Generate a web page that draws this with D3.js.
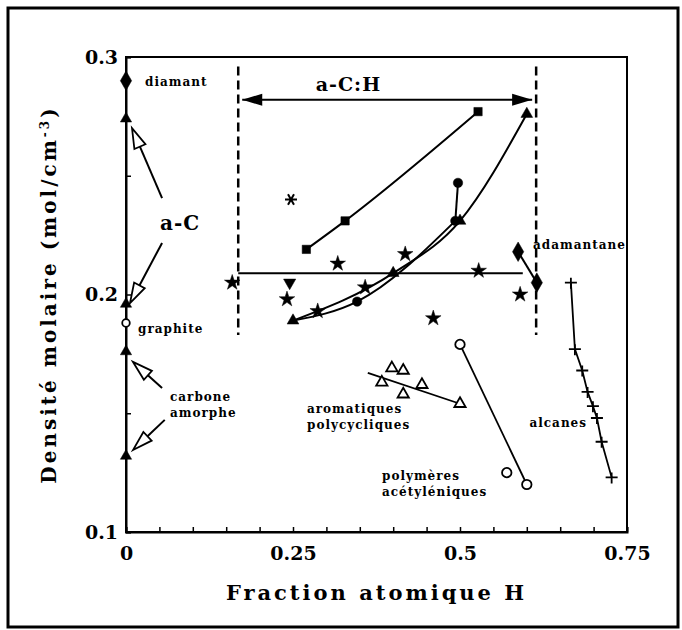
<!DOCTYPE html>
<html>
<head>
<meta charset="utf-8">
<script src="https://cdn.jsdelivr.net/npm/d3@7"></script>
<style>
  body { margin: 0; background: #fff; }
  text { font-family: "DejaVu Serif", "Liberation Serif", serif; font-weight: bold; fill: #000; }
</style>
</head>
<body>
<div id="chart"></div>
<script>
// pure carbon references on the H = 0 axis
var diamant = [[0, 0.29]];
var graphite = [[0, 0.188]];
var carbonTriangles = [[0, 0.274], [0, 0.196], [0, 0.176], [0, 0.132]];

// a-C:H series
var squares = [[0.27, 0.219], [0.328, 0.231], [0.527, 0.277]];
var triangles = [[0.25, 0.189], [0.4, 0.209], [0.5, 0.231], [0.6, 0.276]];
var circles = [[0.346, 0.197], [0.493, 0.231], [0.497, 0.247]];
var stars = [[0.159, 0.205], [0.241, 0.198], [0.287, 0.193], [0.317, 0.213], [0.358, 0.203],
             [0.418, 0.217], [0.46, 0.19], [0.528, 0.21], [0.59, 0.2]];
var asterisk = [[0.247, 0.24]];
var invTriangle = [[0.245, 0.205]];
var hLine = [[0.168, 0.209], [0.594, 0.209]];
var adamantane = [[0.587, 0.218], [0.615, 0.205]];

// hydrocarbons
var aromatiques = [[0.398, 0.169], [0.415, 0.168], [0.383, 0.163], [0.415, 0.158], [0.443, 0.162], [0.5, 0.154]];
var aromFit = [[0.362, 0.167], [0.5, 0.154]];
var polymeres = [[0.5, 0.179], [0.57, 0.125], [0.6, 0.12]];
var alcanes = [[0.666, 0.205], [0.672, 0.177], [0.683, 0.168], [0.691, 0.159], [0.699, 0.153],
               [0.705, 0.148], [0.712, 0.138], [0.727, 0.123]];

// a-C:H domain limits
var domainX = [0.168, 0.614];
var domainY = [0.183, 0.296];
var arrowY = 0.282;

var xTicks = [0, 0.25, 0.5, 0.75];
var yTicks = [0.1, 0.2, 0.3];

var width = 682, height = 630;
var svg = d3.select("#chart").append("svg")
    .attr("width", width)
    .attr("height", height);

// outer frame
svg.append("rect")
    .attr("x", 8).attr("y", 8)
    .attr("width", 670).attr("height", 619)
    .attr("fill", "none").attr("stroke", "#000").attr("stroke-width", 3);

var x = d3.scaleLinear().domain([0, 0.75]).range([126, 627]);
var y = d3.scaleLinear().domain([0.1, 0.3]).range([532, 57]);

// plot box
svg.append("rect")
    .attr("x", x(0)).attr("y", y(0.3))
    .attr("width", x(0.75) - x(0)).attr("height", y(0.1) - y(0.3))
    .attr("fill", "none").attr("stroke", "#000").attr("stroke-width", 2);

function fmtFrom(list) {
    return function(d) {
        return list.some(function(t){ return Math.abs(t - d) < 1e-9; }) ? String(+d.toFixed(2)) : "";
    };
}

var xAxis = svg.append("g")
    .attr("transform", "translate(0," + y(0.1) + ")")
    .call(d3.axisBottom(x).tickValues(d3.range(0, 0.751, 0.05)).tickSize(-5).tickPadding(15).tickFormat(fmtFrom(xTicks)));
var yAxis = svg.append("g")
    .attr("transform", "translate(" + x(0) + ",0)")
    .call(d3.axisLeft(y).tickValues(d3.range(0.1, 0.301, 0.05)).tickSize(-5).tickPadding(8).tickFormat(fmtFrom(yTicks)));
[xAxis, yAxis].forEach(function(a) {
    a.select(".domain").attr("stroke-width", 2);
    a.selectAll(".tick line").attr("stroke-width", 1.5);
    a.selectAll("text").style("font-size", "19px").style("font-family", "'DejaVu Serif', serif").style("font-weight", "bold");
});

// axis titles
svg.append("text")
    .attr("x", (x(0) + x(0.75)) / 2).attr("y", 600)
    .attr("text-anchor", "middle")
    .style("font-size", "21px").style("letter-spacing", "3px")
    .text("Fraction atomique H");

var yt = svg.append("text")
    .attr("transform", "translate(56," + ((y(0.1) + y(0.3)) / 2) + ") rotate(-90)")
    .attr("text-anchor", "middle")
    .style("font-size", "20px").style("letter-spacing", "3px");
yt.append("tspan").text("Densité molaire (mol/cm");
yt.append("tspan").attr("dy", -7).style("font-size", "12px").text("-3");
yt.append("tspan").attr("dy", 7).text(")");

var line = d3.line().x(function(d){ return x(d[0]); }).y(function(d){ return y(d[1]); });
var curve = d3.line().curve(d3.curveMonotoneX).x(function(d){ return x(d[0]); }).y(function(d){ return y(d[1]); });

function drawPath(data, gen, sw) {
    svg.append("path").datum(data).attr("d", gen)
        .attr("fill", "none").attr("stroke", "#000").attr("stroke-width", sw || 2);
}

// dashed domain lines
domainX.forEach(function(v) {
    svg.append("line")
        .attr("x1", x(v)).attr("x2", x(v))
        .attr("y1", y(domainY[1])).attr("y2", y(domainY[0]))
        .attr("stroke", "#000").attr("stroke-width", 2.5).attr("stroke-dasharray", "9,5");
});

// double arrow a-C:H
svg.append("line")
    .attr("x1", x(domainX[0]) + 4).attr("x2", x(domainX[1]) - 4)
    .attr("y1", y(arrowY)).attr("y2", y(arrowY))
    .attr("stroke", "#000").attr("stroke-width", 2);
[[domainX[0], 1], [domainX[1], -1]].forEach(function(p) {
    var tx = x(p[0]) + p[1] * 4, ty = y(arrowY);
    svg.append("path")
        .attr("d", "M" + tx + "," + ty + "L" + (tx + p[1] * 20) + "," + (ty - 6) + "L" + (tx + p[1] * 20) + "," + (ty + 6) + "Z")
        .attr("fill", "#000");
});
svg.append("text").attr("x", x(domainX[0]) + 0.37 * (x(domainX[1]) - x(domainX[0]))).attr("y", y(arrowY) - 9)
    .attr("text-anchor", "middle").style("font-size", "19px").style("letter-spacing", "1px").text("a-C:H");

// open arrows pointing at the carbon references
var openArrows = [
    [[0.054, 0.2406], [0.009, 0.270]],
    [[0.054, 0.2217], [0.006, 0.1964]],
    [[0.054, 0.1606], [0.0105, 0.1716]],
    [[0.058, 0.1472], [0.0105, 0.1345]]
];
openArrows.forEach(function(a) {
    var x0 = x(a[0][0]), y0 = y(a[0][1]), x1 = x(a[1][0]), y1 = y(a[1][1]);
    var ang = Math.atan2(y1 - y0, x1 - x0), L = 20, W = 6;
    var bx = x1 - L * Math.cos(ang), by = y1 - L * Math.sin(ang);
    svg.append("line").attr("x1", x0).attr("y1", y0).attr("x2", bx).attr("y2", by)
        .attr("stroke", "#000").attr("stroke-width", 2);
    svg.append("path")
        .attr("d", "M" + x1 + "," + y1 +
            "L" + (bx + W * Math.sin(ang)) + "," + (by - W * Math.cos(ang)) +
            "L" + (bx - W * Math.sin(ang)) + "," + (by + W * Math.cos(ang)) + "Z")
        .attr("fill", "#fff").attr("stroke", "#000").attr("stroke-width", 1.8);
});

// lines
drawPath(squares, curve);
drawPath(triangles, curve);
drawPath([circles[1], circles[2]], line);
drawPath([triangles[0], circles[0], circles[1]], curve);
drawPath(hLine, line);
drawPath(adamantane, line);
drawPath(aromFit, line, 1.8);
drawPath([polymeres[0], polymeres[2]], line, 1.8);
drawPath(alcanes, line, 1.8);

// markers
function markers(data, type, size, fill, rot) {
    svg.append("g").selectAll("path").data(data).enter().append("path")
        .attr("d", d3.symbol().type(type).size(size))
        .attr("transform", function(d){ return "translate(" + x(d[0]) + "," + y(d[1]) + ")" + (rot ? " rotate(" + rot + ")" : ""); })
        .attr("fill", fill ? "#000" : "#fff")
        .attr("stroke", "#000").attr("stroke-width", fill ? 0.5 : 1.8);
}
markers(diamant, d3.symbolDiamond, 110, true);
markers(adamantane, d3.symbolDiamond, 110, true);
markers(carbonTriangles, d3.symbolTriangle, 55, true);
markers(graphite, d3.symbolCircle, 45, false);
markers(squares, d3.symbolSquare, 70, true);
markers(triangles, d3.symbolTriangle, 60, true);
markers(circles, d3.symbolCircle, 70, true);
markers(stars, d3.symbolStar, 75, true);
markers(invTriangle, d3.symbolTriangle, 65, true, 180);
markers(aromatiques, d3.symbolTriangle, 55, false);
markers(polymeres, d3.symbolCircle, 70, false);

svg.append("g").selectAll("path").data(asterisk).enter().append("path")
    .attr("d", "M-6,0H6M-3,-5.2L3,5.2M3,-5.2L-3,5.2")
    .attr("transform", function(d){ return "translate(" + x(d[0]) + "," + y(d[1]) + ")"; })
    .attr("stroke", "#000").attr("stroke-width", 2);
svg.append("g").selectAll("path").data(alcanes).enter().append("path")
    .attr("d", "M-6,0H6M0,-5V6")
    .attr("transform", function(d){ return "translate(" + x(d[0]) + "," + y(d[1]) + ")"; })
    .attr("stroke", "#000").attr("stroke-width", 1.8);

// labels
function label(tx, ty, txt, size, anchor) {
    svg.append("text").attr("x", tx).attr("y", ty)
        .attr("text-anchor", anchor || "start")
        .style("font-size", (size || 12) + "px").style("letter-spacing", "1px")
        .text(txt);
}
label(145, 86, "diamant");
label(138, 333, "graphite");
label(160, 230, "a-C", 20);
label(170, 401, "carbone");
label(170, 417, "amorphe");
label(307, 413, "aromatiques");
label(307, 429, "polycycliques");
label(382, 480, "polymères");
label(382, 496, "acétyléniques");
label(587, 427, "alcanes", 12, "end");
label(533, 249, "adamantane");
</script>
</body>
</html>
